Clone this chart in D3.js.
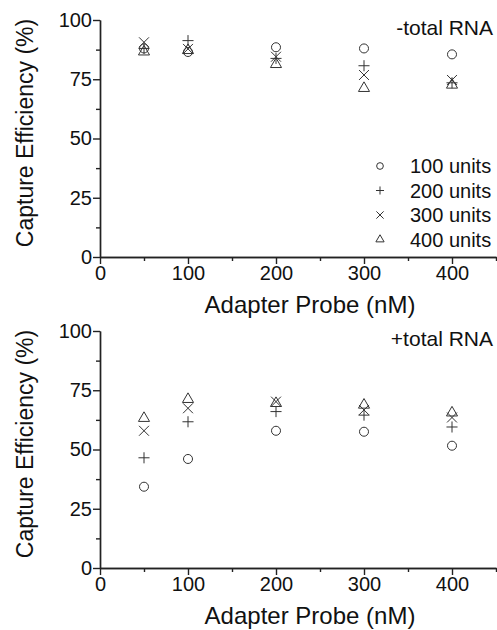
<!DOCTYPE html>
<html>
<head>
<meta charset="utf-8">
<script src="https://cdn.jsdelivr.net/npm/d3@7"></script>
<style>
  body { margin: 0; background: #fff; }
  svg text { font-family: "Liberation Sans", Arial, sans-serif; fill: #111; }
  .axis path, .axis line { stroke: #222; stroke-width: 1.4; }
  .axis text { font-size: 20px; }
  .mark { fill: none; stroke: #333; stroke-width: 1; }
</style>
</head>
<body>
<div id="chart"></div>
<script>
// data
var probe = [50, 100, 200, 300, 400];
var units = ["100 units", "200 units", "300 units", "400 units"];

// -total RNA
var noRna100 = [88, 86.5, 88.5, 88, 85.5];
var noRna200 = [88, 91.3, 83.8, 80.7, 73.5];
var noRna300 = [90.6, 87.8, 84.5, 76.8, 74.7];
var noRna400 = [86.6, 87.2, 81.3, 71.2, 72.6];

// +total RNA
var rna100 = [34.3, 46, 57.9, 57.5, 51.6];
var rna200 = [46.5, 61.7, 66, 64.5, 59.5];
var rna300 = [57.9, 67.4, 70.2, 66.7, 63.5];
var rna400 = [63.2, 71.2, 69.5, 68.8, 65.5];

var xTicks = [0, 100, 200, 300, 400];
var xMinor = [50, 150, 250, 350, 450];
var yTicks = [0, 25, 50, 75, 100];
var yMinor = [12.5, 37.5, 62.5, 87.5];

var W = 497, H = 630;

var svg = d3.select("#chart").append("svg")
    .attr("width", W)
    .attr("height", H);

// symbol types: circle, plus, times, triangle
var symTypes = [
  d3.symbolCircle,
  d3.symbolPlus || d3.symbolCross,
  d3.symbolTimes || d3.symbolX,
  d3.symbolTriangle2 || d3.symbolTriangle
];
var symSizes = [64, 42, 66, 88];

var x = d3.scaleLinear().domain([0, 450]).range([100, 496]);

function drawPanel(top, label, series, showLegend) {
  var y = d3.scaleLinear().domain([0, 100]).range([top + 237, top]);
  var bottom = top + 237;

  // minor ticks
  svg.append("g")
      .attr("class", "axis")
      .attr("transform", "translate(0," + bottom + ")")
      .call(d3.axisBottom(x).tickValues(xMinor).tickSize(4).tickSizeOuter(0).tickFormat(""));
  svg.append("g")
      .attr("class", "axis")
      .attr("transform", "translate(100,0)")
      .call(d3.axisLeft(y).tickValues(yMinor).tickSize(4).tickSizeOuter(0).tickFormat(""));

  // x axis
  svg.append("g")
      .attr("class", "axis")
      .attr("transform", "translate(0," + bottom + ")")
      .call(d3.axisBottom(x).tickValues(xTicks).tickSize(7).tickSizeOuter(0).tickPadding(2))
    .selectAll("text")
      .attr("fill", "#111");

  // y axis
  svg.append("g")
      .attr("class", "axis")
      .attr("transform", "translate(100,0)")
      .call(d3.axisLeft(y).tickValues(yTicks).tickSize(7).tickSizeOuter(0).tickPadding(1))
    .selectAll("text")
      .attr("fill", "#111");

  // axis titles
  svg.append("text")
      .attr("x", 310)
      .attr("y", bottom + 56)
      .attr("text-anchor", "middle")
      .style("font-size", "24px")
      .text("Adapter Probe (nM)");

  svg.append("text")
      .attr("transform", "translate(33," + (top + 113) + ") rotate(-90)")
      .attr("text-anchor", "middle")
      .style("font-size", "23px")
      .text("Capture Efficiency (%)");

  // panel label
  svg.append("text")
      .attr("x", 493)
      .attr("y", top + 15)
      .attr("text-anchor", "end")
      .style("font-size", "21px")
      .text(label);

  // points
  series.forEach(function(vals, i) {
    svg.append("g").selectAll("path")
        .data(vals)
      .enter().append("path")
        .attr("class", "mark")
        .attr("transform", function(d, j) { return "translate(" + x(probe[j]) + "," + y(d) + ")"; })
        .attr("d", d3.symbol().type(symTypes[i]).size(symSizes[i]));
  });

  if (showLegend) {
    var leg = svg.append("g").attr("transform", "translate(380," + (top + 146) + ")");
    units.forEach(function(u, i) {
      leg.append("path")
          .attr("class", "mark")
          .attr("transform", "translate(0," + (i * 24.5) + ")")
          .attr("d", d3.symbol().type(symTypes[i]).size(symSizes[i] * 0.55));
      leg.append("text")
          .attr("x", 30)
          .attr("y", i * 24.5 + 7)
          .style("font-size", "20px")
          .text(u);
    });
  }
}

drawPanel(20, "-total RNA", [noRna100, noRna200, noRna300, noRna400], true);
drawPanel(331, "+total RNA", [rna100, rna200, rna300, rna400], false);
</script>
</body>
</html>
